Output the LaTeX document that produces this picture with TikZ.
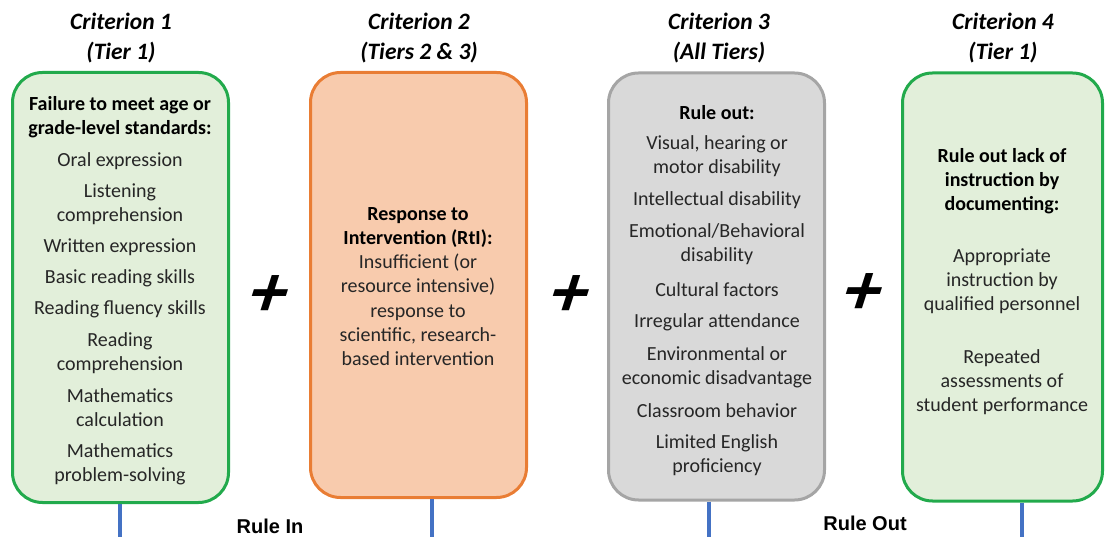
\documentclass[tikz,border=0pt]{standalone}
\usepackage{fontspec}
\setmainfont{Carlito}
\newfontfamily\arialfont{Liberation Sans}
\definecolor{grnline}{RGB}{34,170,76}
\definecolor{grnfill}{RGB}{226,239,218}
\definecolor{orgline}{RGB}{233,125,52}
\definecolor{orgfill}{RGB}{248,203,173}
\definecolor{gryline}{RGB}{165,165,165}
\definecolor{gryfill}{RGB}{217,217,217}
\definecolor{blueline}{RGB}{68,114,196}
\begin{document}
\begin{tikzpicture}[x=1pt,y=-1pt,
  boxbase/.style={draw,line width=3pt,rounded corners=30pt},
  greenbox/.style={boxbase,draw=grnline,fill=grnfill},
  orangebox/.style={boxbase,draw=orgline,fill=orgfill},
  graybox/.style={boxbase,draw=gryline,fill=gryfill},
  crit/.style={font=\fontsize{23.5}{29.5}\selectfont\bfseries\itshape,align=center,inner sep=0pt},
  txt/.style={font=\fontsize{20}{24}\selectfont,align=center,inner sep=0pt,text=black!85},
  btxt/.style={font=\fontsize{20}{24}\selectfont\bfseries,align=center,inner sep=0pt},
  conn/.style={draw=blueline,line width=3.2pt},
  plussign/.style={font=\fontsize{74}{74}\selectfont\bfseries,xslant=0.32,inner sep=0pt},
  rulelbl/.style={font=\arialfont\fontsize{20}{24}\selectfont\bfseries,inner sep=0pt}
]
\useasboundingbox (0,0) rectangle (1106,537);
% boxes
\node[greenbox,minimum width=216pt,minimum height=430pt] (b1) at (120.5,287.5) {};
\node[orangebox,minimum width=216pt,minimum height=425pt] (b2) at (418.5,285) {};
\node[graybox,minimum width=216pt,minimum height=427pt] (b3) at (716.5,286.5) {};
\node[greenbox,minimum width=200pt,minimum height=428pt] (b4) at (1002.5,287) {};
% connectors
\coordinate (e1) at (120,537);
\coordinate (e2) at (432,537);
\coordinate (e3) at (709,537);
\coordinate (e4) at (1022,537);
\draw[conn] (b1.south -| e1) -- (e1);
\draw[conn] (b2.south -| e2) -- (e2);
\draw[conn] (b3.south -| e3) -- (e3);
\draw[conn] (b4.south -| e4) -- (e4);
% titles
\node[crit] (c1) at (121,38) {Criterion 1\\(Tier 1)};
\node[crit] (c2) at (419,38) {Criterion 2\\(Tiers 2 \& 3)};
\node[crit] (c3) at (719,38) {Criterion 3\\(All Tiers)};
\node[crit] (c4) at (1003,38) {Criterion 4\\(Tier 1)};
% box 1
\node[btxt] (t1a) at (120,117) {Failure to meet age or\\grade-level standards:};
\node[txt] (t1b) at (120,161) {Oral expression};
\node[txt] (t1c) at (120,204) {Listening\\comprehension};
\node[txt] (t1d) at (120,247) {Written expression};
\node[txt] (t1e) at (120,278) {Basic reading skills};
\node[txt] (t1f) at (120,309) {Reading fluency skills};
\node[txt] (t1g) at (120,353) {Reading\\comprehension};
\node[txt] (t1h) at (120,408) {Mathematics\\calculation};
\node[txt] (t1i) at (120,464) {Mathematics\\problem-solving};
% box 2
\node[btxt] (t2a) at (418,228) {Response to\\Intervention (RtI):};
\node[txt] (t2b) at (418,275) {Insufficient (or\\resource intensive)};
\node[txt] (t2c) at (418,335) {response to\\scientific, research-\\based intervention};
% box 3
\node[btxt] (t3a) at (717,113) {Rule out:};
\node[txt] (t3b) at (717,156) {Visual, hearing or\\motor disability};
\node[txt] (t3c) at (717,200) {Intellectual disability};
\node[txt] (t3d) at (717,244) {Emotional/Behavioral\\disability};
\node[txt] (t3e) at (717,290) {Cultural factors};
\node[txt] (t3f) at (717,322) {Irregular attendance};
\node[txt] (t3g) at (717,367) {Environmental or\\economic disadvantage};
\node[txt] (t3h) at (717,411) {Classroom behavior};
\node[txt] (t3i) at (717,455) {Limited English\\proficiency};
% box 4
\node[btxt] (t4a) at (1002,181) {Rule out lack of\\instruction by\\documenting:};
\node[txt] (t4b) at (1002,281) {Appropriate\\instruction by\\qualified personnel};
\node[txt] (t4c) at (1002,382) {Repeated\\assessments of\\student performance};
% plus signs
\node[plussign] (p1) at (269,296) {+};
\node[plussign] (p2) at (570,296) {+};
\node[plussign] (p3) at (863,294) {+};
% rule labels
\node[rulelbl] (ri) at (270,526) {Rule In};
\node[rulelbl] (ro) at (865,523) {Rule Out};
\end{tikzpicture}
\end{document}
